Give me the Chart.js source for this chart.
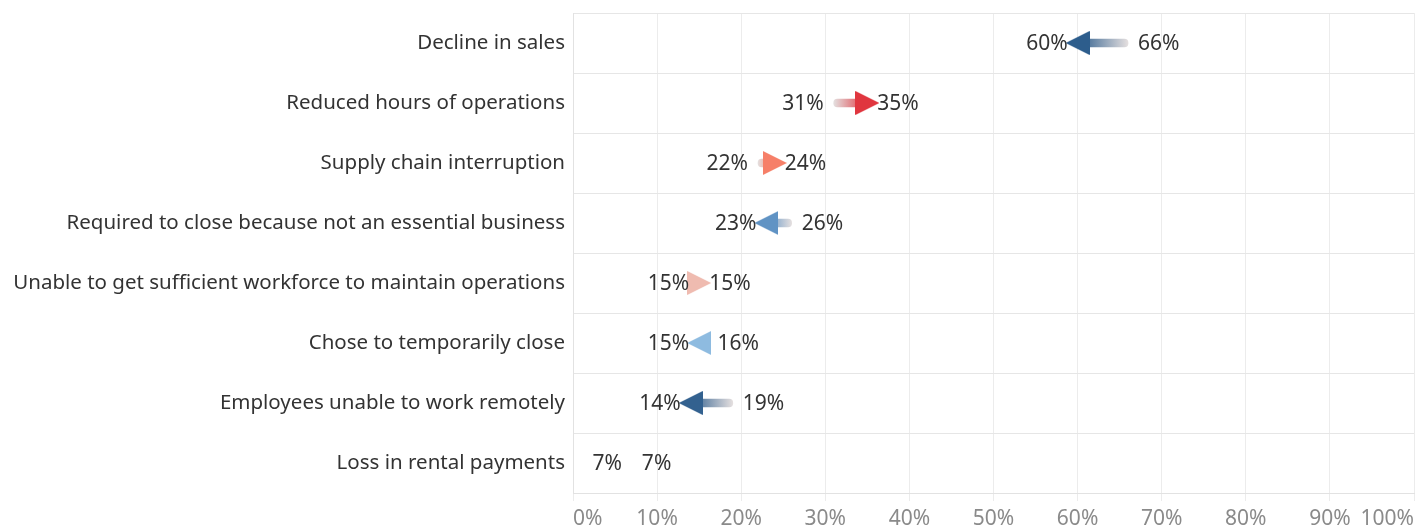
<!DOCTYPE html>
<html>
<head>
<meta charset="utf-8">
<script src="https://cdn.jsdelivr.net/npm/chart.js@4.4.1/dist/chart.umd.min.js"></script>
<style>
  html, body { margin: 0; padding: 0; background: #fff; }
  #wrap { width: 1427px; height: 527px; }
</style>
</head>
<body>
<div id="wrap"><canvas id="chart"></canvas></div>
<script>
// Share of businesses citing each reason: before -> after
const categories = [
    'Decline in sales',
    'Reduced hours of operations',
    'Supply chain interruption',
    'Required to close because not an essential business',
    'Unable to get sufficient workforce to maintain operations',
    'Chose to temporarily close',
    'Employees unable to work remotely',
    'Loss in rental payments'
];
const startValues = [66, 31, 22, 26, 15, 16, 19, 7];
const endValues = [60, 35, 24, 23, 15, 15, 14, 7];
const tickValues = [0, 10, 20, 30, 40, 50, 60, 70, 80, 90, 100];

// styling
const arrowColors = ['#2d5d8c', '#e0363f', '#f67f68', '#6093c4', '#efbbb0', '#8ebbe0', '#33618f', 'rgba(0,0,0,0)'];
const tailColor = '#e4dfdf';

Chart.defaults.font.family = '"Noto Sans", sans-serif';

function makeTriangle(color, pointRight) {
    const c = document.createElement('canvas');
    c.width = 24;
    c.height = 24;
    const g = c.getContext('2d');
    g.fillStyle = color;
    g.beginPath();
    if (pointRight) {
        g.moveTo(0, 0); g.lineTo(24, 12); g.lineTo(0, 24);
    } else {
        g.moveTo(24, 0); g.lineTo(0, 12); g.lineTo(24, 24);
    }
    g.closePath();
    g.fill();
    return c;
}

const heads = categories.map((c, i) => makeTriangle(arrowColors[i], endValues[i] >= startValues[i]));

const valueLabels = {
    id: 'valueLabels',
    afterDatasetsDraw(chart) {
        const { ctx, scales: { x, y } } = chart;
        ctx.save();
        ctx.font = '21px "Noto Sans"';
        ctx.fillStyle = '#333';
        ctx.textBaseline = 'middle';
        categories.forEach((c, i) => {
            const lo = Math.min(startValues[i], endValues[i]);
            const hi = Math.max(startValues[i], endValues[i]);
            const yp = y.getPixelForValue(i) + 1;
            ctx.textAlign = 'right';
            ctx.fillText(lo + '%', x.getPixelForValue(lo) - 10, yp);
            ctx.textAlign = 'left';
            ctx.fillText(hi + '%', x.getPixelForValue(hi) + 10, yp);
        });
        ctx.restore();
    }
};

new Chart(document.getElementById('chart'), {
    type: 'bar',
    data: {
        labels: categories,
        datasets: [
            {
                // arrow shaft
                order: 1,
                data: startValues.map((s, i) => [s, endValues[i]]),
                barThickness: 8,
                borderRadius: 4,
                borderSkipped: false,
                backgroundColor: (ctx) => {
                    const chart = ctx.chart;
                    if (!chart.chartArea || ctx.type !== 'data') return tailColor;
                    const i = ctx.dataIndex;
                    const x0 = chart.scales.x.getPixelForValue(startValues[i]);
                    const x1 = chart.scales.x.getPixelForValue(endValues[i]);
                    if (x0 === x1) return 'rgba(0,0,0,0)';
                    const g = chart.ctx.createLinearGradient(x0, 0, x1, 0);
                    g.addColorStop(0, tailColor);
                    g.addColorStop(1, arrowColors[i]);
                    return g;
                }
            },
            {
                // arrow head
                order: 0,
                type: 'line',
                indexAxis: 'y',
                showLine: false,
                data: endValues.map((v, i) => ({ x: v, y: categories[i] })),
                pointStyle: heads,
                pointRadius: 12,
                pointHoverRadius: 12
            }
        ]
    },
    options: {
        indexAxis: 'y',
        responsive: true,
        maintainAspectRatio: false,
        animation: false,
        layout: { padding: { top: 12, right: 11, left: 0, bottom: 0 } },
        plugins: {
            legend: { display: false },
            tooltip: { enabled: false }
        },
        scales: {
            x: {
                type: 'linear',
                position: 'bottom',
                min: 0,
                max: 100,
                afterBuildTicks: (scale) => {
                    scale.ticks = tickValues.map(v => ({ value: v }));
                },
                afterFit: (scale) => {
                    scale.height = 34;
                    scale.paddingLeft = 0;
                    scale.paddingRight = 0;
                },
                ticks: {
                    callback: (v) => v + '%',
                    color: '#8a8a8a',
                    font: { size: 21 },
                    align: 'inner',
                    padding: 5,
                    maxRotation: 0
                },
                grid: { color: '#ececec', tickLength: 8 },
                border: { color: '#e2e2e2' }
            },
            y: {
                type: 'category',
                afterFit: (scale) => {
                    scale.width = 573;
                    scale.paddingTop = 0;
                    scale.paddingBottom = 0;
                },
                ticks: {
                    color: '#333',
                    font: { size: 20.5 },
                    padding: 8
                },
                grid: { offset: true, color: '#e6e6e6', drawTicks: false },
                border: { color: '#e2e2e2' }
            }
        }
    },
    plugins: [valueLabels]
});
</script>
</body>
</html>
